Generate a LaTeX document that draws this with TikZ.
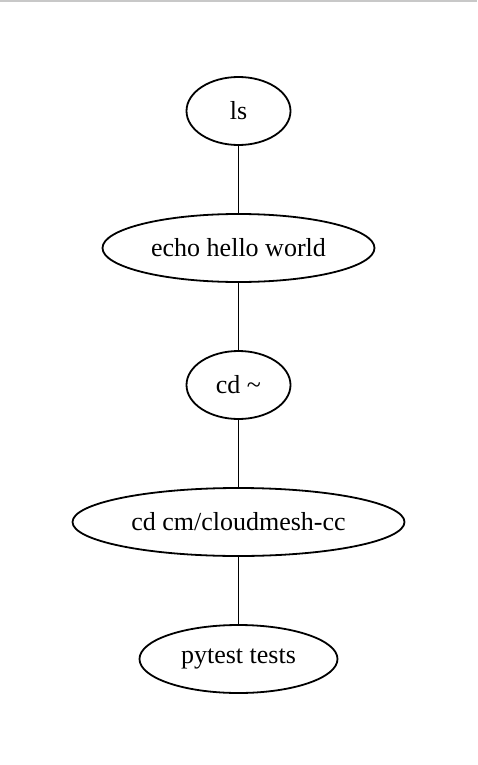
\documentclass[tikz,border=0pt]{standalone}
\usepackage{fontspec}
\setmainfont{Liberation Serif}
\usepackage{xcolor}
\usepackage{tikz}
\usetikzlibrary{positioning, shapes.geometric}
\definecolor{pagerule}{HTML}{C8C8C8}
\tikzset{
  cmd/.style={draw=black, ellipse, line width=1.8pt, inner sep=0pt, minimum height=68pt, font=\fontsize{26}{30}\selectfont, align=center},
  link/.style={line width=1.8pt, draw=black},
}

\begin{document}
\begin{tikzpicture}[x=1pt, y=1pt, node distance=67.2pt]
  \useasboundingbox (0,0) rectangle (477,-765);
  % light rule along the top edge
  \draw[pagerule, line width=2pt] (0,-1) -- (477,-1);
  % command chain
  \node[cmd, minimum width=104pt] (ls) at (238.5,-111) {ls};
  \node[cmd, below=of ls, minimum width=272pt] (echo) {echo hello world};
  \node[cmd, below=of echo, minimum width=104pt] (home) {cd \textasciitilde};
  \node[cmd, below=of home, minimum width=332pt] (cdcc) {cd cm/cloudmesh-cc};
  \node[cmd, below=of cdcc, minimum width=198pt] (tests) {pytest tests};

  \draw[link] (ls) -- (echo);
  \draw[link] (echo) -- (home);
  \draw[link] (home) -- (cdcc);
  \draw[link] (cdcc) -- (tests);
\end{tikzpicture}
\end{document}
